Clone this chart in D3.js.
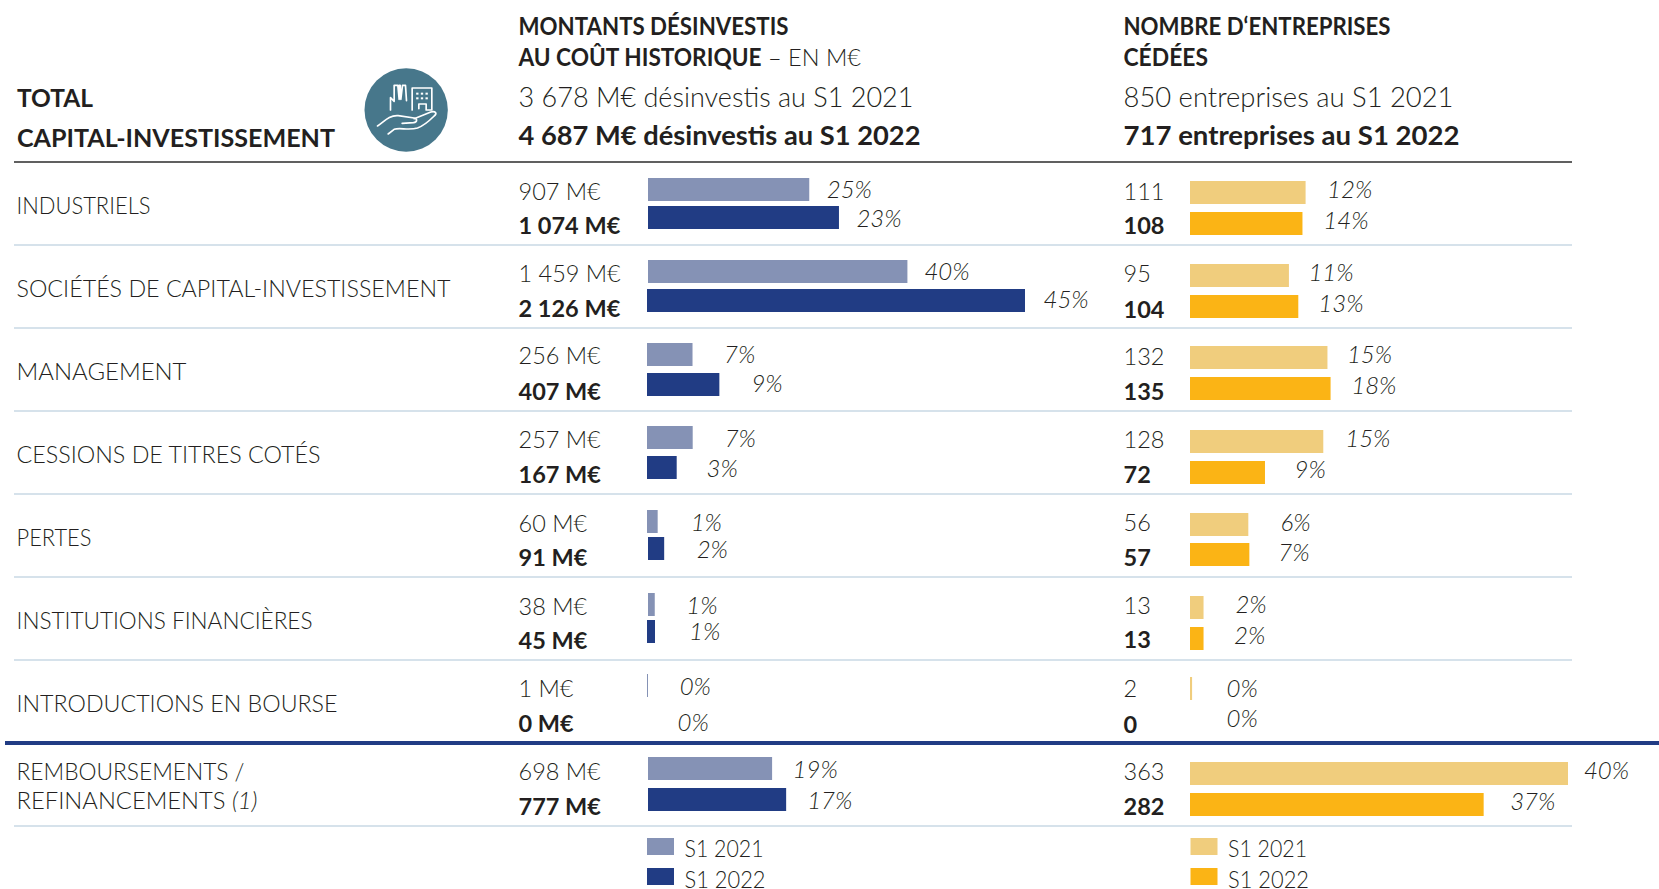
<!DOCTYPE html>
<html lang="fr"><head><meta charset="utf-8">
<script src="https://cdn.jsdelivr.net/npm/d3@7"></script>
<style>
html,body{margin:0;padding:0;background:#fff}
svg{display:block}
text{font-family:Lato,"Open Sans",sans-serif;fill:#231f20}
.reg{font-weight:300}
.bold{font-weight:700}
.pct{font-weight:300;font-style:italic}
</style></head><body><div id="chart"></div>
<script>
// ---- data ----
const categories = [["INDUSTRIELS"],["SOCIÉTÉS DE CAPITAL-INVESTISSEMENT"],["MANAGEMENT"],["CESSIONS DE TITRES COTÉS"],["PERTES"],["INSTITUTIONS FINANCIÈRES"],["INTRODUCTIONS EN BOURSE"],["REMBOURSEMENTS /","REFINANCEMENTS"]];
const amount2021 = [907,1459,256,257,60,38,1,698];
const amount2022 = [1074,2126,407,167,91,45,0,777];
const amountShare2021 = [25,40,7,7,1,1,0,19];
const amountShare2022 = [23,45,9,3,2,1,0,17];
const count2021 = [111,95,132,128,56,13,2,363];
const count2022 = [108,104,135,72,57,13,0,282];
const countShare2021 = [12,11,15,15,6,2,0,40];
const countShare2022 = [14,13,18,9,7,2,0,37];
const legendLabels = ["S1 2021","S1 2022"];

// ---- layout ----
const W=1659,H=889;
const fmt=v=>String(v).replace(/\B(?=(\d{3})+$)/g," ");
const svg=d3.select("#chart").append("svg").attr("width",W).attr("height",H);
const rowTop=d3.scaleLinear().domain([0,1]).range([162,245]);
const xA=d3.scaleLinear().domain([0,2126]).range([0,378]);
const xC=d3.scaleLinear().domain([0,363]).range([0,378]);
const colors={a1:"#8592b5",a2:"#213c84",c1:"#f0cd7d",c2:"#fbb415"};
const col=[
 {x0:[648,648,647,647,647,648,647,648],x1:[648,647,647,647,648,647,647,648],scale:xA,textX:518.5,unit:" M€",v1:amount2021,v2:amount2022,s1:amountShare2021,s2:amountShare2022,c1:colors.a1,c2:colors.a2,
  y1:[16,15,15,15,16,16,14,14],y2:[44,44,45,45,43,43,45,45],
  g1:[19,18.5,33,33.5,34.5,33,34,22],g2:[19,20,33.6,31.3,34,35.5,32,22.5],
  t1:[38,37,36,37,38,38,37,37],t2:[72,72,72,72,72,72,72,72],
  p1:[36,35,35,36,37,37,35,35],p2:[65,63,64,66,64,63,71,66]},
 {x0:Array(8).fill(1190),x1:Array(8).fill(1190),scale:xC,textX:1123.5,unit:"",v1:count2021,v2:count2022,s1:countShare2021,s2:countShare2022,c1:colors.c1,c2:colors.c2,
  y1:[19,19,18,19,19,19,17,19],y2:[50,50,49,50,49,50,50,50],
  g1:[23,21,21,23.5,33.6,33.4,36,17.4],g2:[22.4,21.5,22.2,31,30.5,32,38,28],
  t1:[38,37,37,37,37,37,37,37],t2:[72,73,72,72,72,71,73,72],
  p1:[36,36,35,36,37,36,37,36],p2:[67,67,66,67,67,67,67,67]}
];
const BAR_H=23, FS=24, PCT_SHIFT=-1.5;

function txt(x,y,s,cls,size,len){
  const t=svg.append("text").attr("x",x).attr("y",y).attr("class",cls).attr("font-size",size).text(s);
  if(len){t.attr("textLength",len).attr("lengthAdjust","spacingAndGlyphs");}
  return t;
}

// rules
const rules=[245,328,411,494,577,660,826];
svg.selectAll("line.sep").data(rules).join("line").attr("class","sep")
  .attr("x1",14).attr("x2",1572).attr("y1",d=>d).attr("y2",d=>d).attr("stroke","#c9d9e4").attr("stroke-width",1.6);
svg.append("line").attr("x1",14).attr("x2",1572).attr("y1",162).attr("y2",162).attr("stroke","#2b2b2b").attr("stroke-width",1.5);
svg.append("line").attr("x1",5).attr("x2",W).attr("y1",743).attr("y2",743).attr("stroke","#213c84").attr("stroke-width",4);

// headers
txt(17,107,"TOTAL","bold",24,76);
txt(17,147,"CAPITAL-INVESTISSEMENT","bold",24,318);
txt(518.5,35,"MONTANTS DÉSINVESTIS","bold",24,270);
txt(518.5,66,"AU COÛT HISTORIQUE","bold",24,243);
txt(768,66,"– EN M€","reg",24,93);
txt(518.5,107,"3 678 M€ désinvestis au S1 2021","reg",27,395);
txt(518.5,145,"4 687 M€ désinvestis au S1 2022","bold",27,402);
txt(1123.5,35,"NOMBRE D‘ENTREPRISES","bold",24,267);
txt(1123.5,66,"CÉDÉES","bold",24,84.5);
txt(1123.5,107,"850 entreprises au S1 2021","reg",27,330);
txt(1123.5,145,"717 entreprises au S1 2022","bold",27,336);

// icon
const icon=svg.append("g").attr("transform","translate(355.5,60) scale(0.3333)");
icon.append("circle").attr("cx",152).attr("cy",150).attr("r",125).attr("fill","#47778b");
const ip=(d,w)=>icon.append("path").attr("d",d).attr("fill","none").attr("stroke","#fff").attr("stroke-width",w||5).attr("stroke-linejoin","round").attr("stroke-linecap","round");
ip("M105 150V113L116 124V76H127L131 118V76H134L136 118L141 76H150L153 122");
ip("M170 150V84H229V150H212V132H190V146");
icon.selectAll("rect.w").data(d3.cross([182,196,210],[98,112])).join("rect").attr("class","w")
  .attr("x",d=>d[0]).attr("y",d=>d[1]).attr("width",7).attr("height",6).attr("fill","#fff");
ip("M66 198C85 186 100 165 128 167L176 174C186 176 186 186 174 188L140 190");
ip("M176 176L226 156C240 152 246 160 236 168C222 182 208 196 186 204C160 212 132 202 116 208L98 222");

// category labels
const catLen=[134,434,170,304,75,296,321,228];
const catY=[214,297,380,463,546,629,712,780];
categories.forEach((c,i)=>{
  txt(16.5,catY[i],c[0],"reg",24,catLen[i]);
});
const ref=txt(16.5,809,"REFINANCEMENTS ","reg",24,241);
ref.append("tspan").attr("font-style","italic").text("(1)");

// bars and labels
col.forEach(c=>{
  const rows=d3.range(8);
  const g=svg.append("g");
  const width=v=>v>0?Math.max(1,c.scale(v)):0;
  g.selectAll("rect.s1").data(rows).join("rect").attr("class","s1")
    .attr("x",i=>c.x0[i]).attr("y",i=>rowTop(i)+c.y1[i]).attr("width",i=>width(c.v1[i])).attr("height",BAR_H).attr("fill",c.c1);
  g.selectAll("rect.s2").data(rows).join("rect").attr("class","s2")
    .attr("x",i=>c.x1[i]).attr("y",i=>rowTop(i)+c.y2[i]).attr("width",i=>width(c.v2[i])).attr("height",BAR_H).attr("fill",c.c2);
  rows.forEach(i=>{
    txt(c.textX,rowTop(i)+c.t1[i],fmt(c.v1[i])+c.unit,"reg",FS-0.5);
    txt(c.textX,rowTop(i)+c.t2[i],fmt(c.v2[i])+c.unit,"bold",FS-0.5);
    txt(c.x0[i]+c.scale(c.v1[i])+c.g1[i]+PCT_SHIFT,rowTop(i)+c.p1[i],c.s1[i]+"%","pct",FS);
    txt(c.x1[i]+c.scale(c.v2[i])+c.g2[i]+PCT_SHIFT,rowTop(i)+c.p2[i],c.s2[i]+"%","pct",FS);
  });
  // legend
  const lx=c.x0[0]-(c===col[0]?1:-0.5);
  legendLabels.forEach((l,k)=>{
    g.append("rect").attr("x",lx).attr("y",838+30*k).attr("width",27).attr("height",17).attr("fill",k?c.c2:c.c1);
    txt(lx+37.5,857+31*k,l,"reg",FS-0.5,79+2*k);
  });
});
</script></body></html>
